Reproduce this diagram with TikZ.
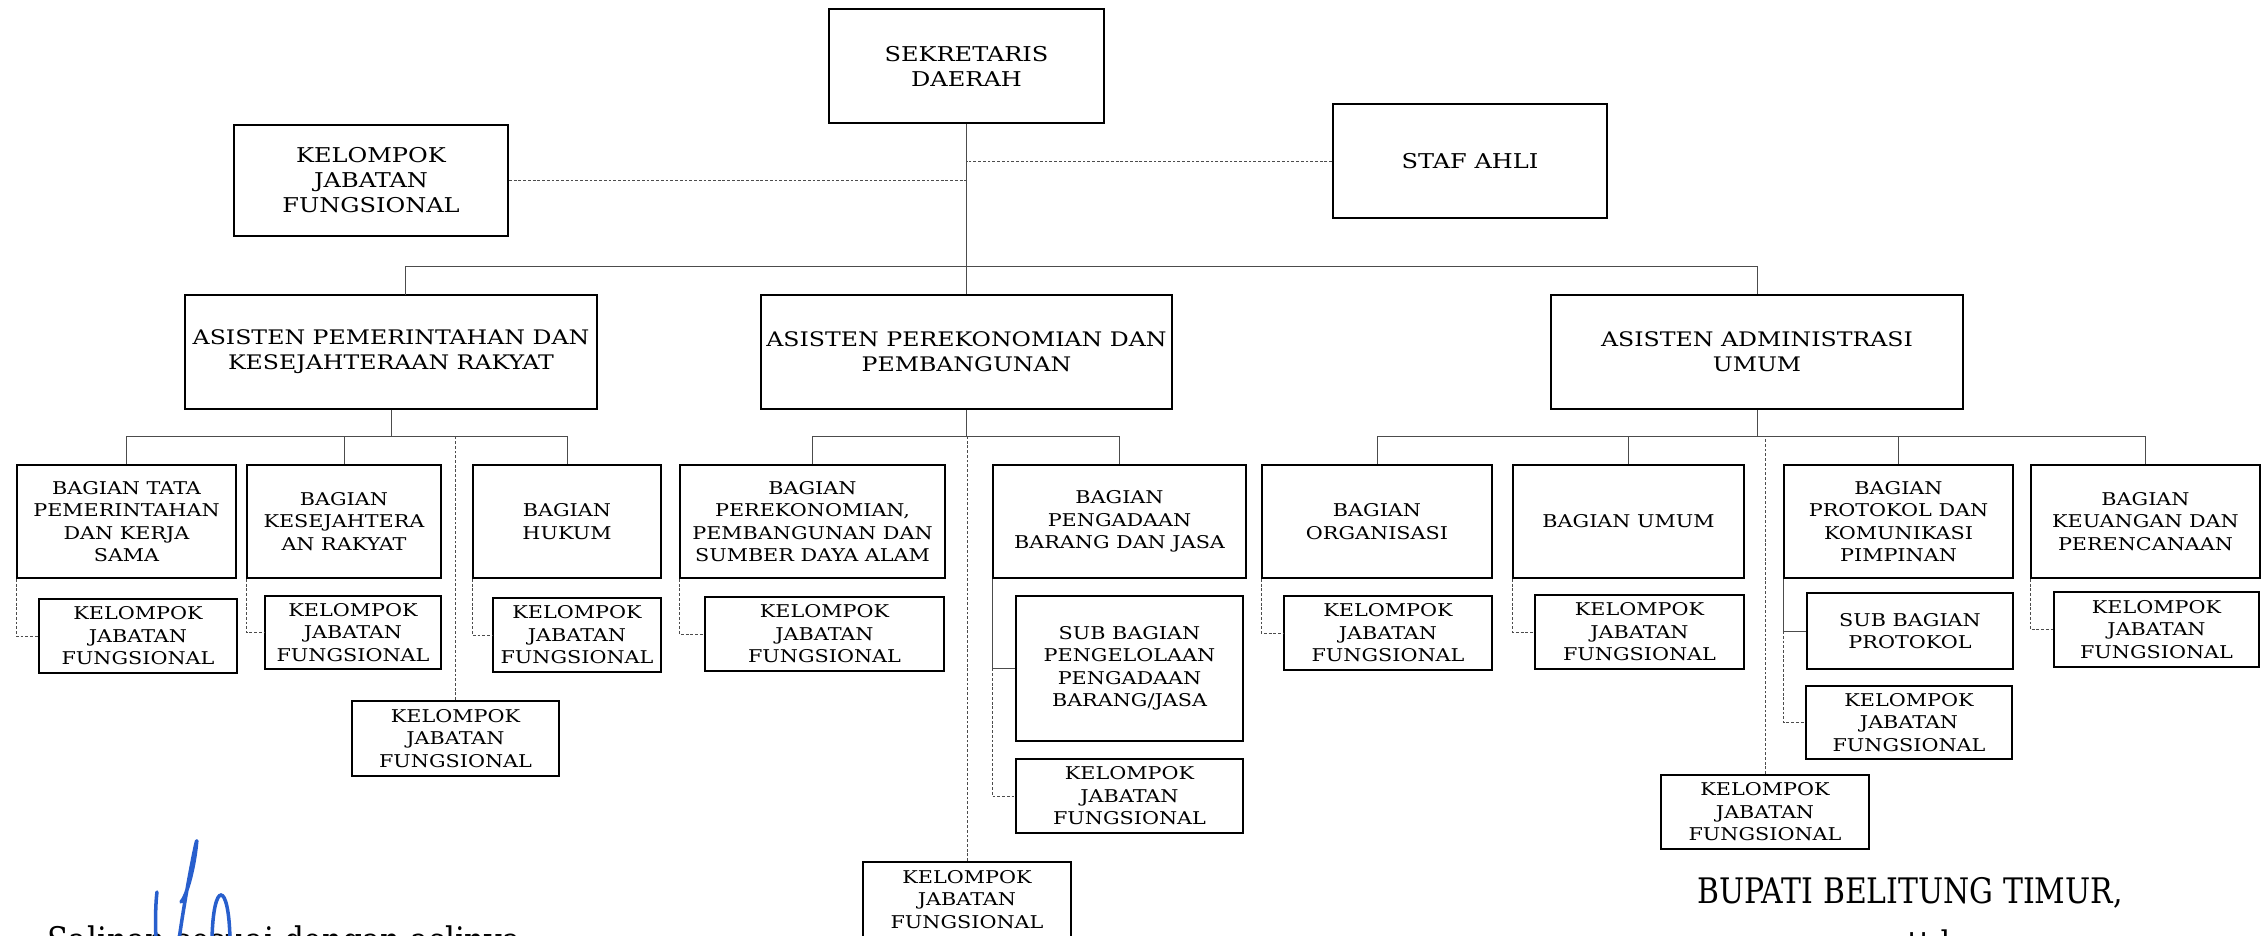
\documentclass[tikz,border=0pt]{standalone}
\usepackage{fontspec}
\setmainfont{DejaVu Serif}[FakeStretch=1.18]
\newfontfamily\kakifont{DejaVu Serif}[FakeStretch=0.85]
\usepackage{tikz}
\usepackage{xcolor}
\definecolor{tinta}{RGB}{40,95,205}
\newcommand{\kotakfont}{\fontsize{10}{12.8}\selectfont}
\newcommand{\atasfont}{\fontsize{11.6}{14.2}\selectfont}
\newcommand{\asisfont}{\fontsize{11.4}{14.2}\selectfont}
\tikzset{
  kotak/.style={draw, line width=1.1pt, align=center, inner sep=0pt, font=\kotakfont},
  garis/.style={gray!60!black, line width=0.5pt},
  putus/.style={gray!60!black, line width=0.5pt, dash pattern=on 1.6pt off 1.1pt},
}

\begin{document}
\begin{tikzpicture}
            \fill[white](0,0)rectangle(45.24,-18.7);
            \useasboundingbox(0,0)rectangle(45.24,-18.7);
            \node[kotak, font=\atasfont, minimum width=5.5cm, minimum height=2.28cm] (sekda) at (19.33,-1.32){SEKRETARIS\\DAERAH};
            \node[kotak, font=\atasfont, minimum width=5.48cm, minimum height=2.22cm] (kjfsekda) at (7.42,-3.61){KELOMPOK\\JABATAN\\FUNGSIONAL};
            \node[kotak, font=\atasfont, minimum width=5.48cm, minimum height=2.28cm] (staf) at (29.4,-3.22){STAF AHLI};
            \node[kotak, font=\asisfont, minimum width=8.24cm, minimum height=2.28cm] (asPem) at (7.82,-7.04){ASISTEN PEMERINTAHAN DAN\\KESEJAHTERAAN RAKYAT};
            \node[kotak, font=\asisfont, minimum width=8.22cm, minimum height=2.28cm] (asEko) at (19.33,-7.04){ASISTEN PEREKONOMIAN DAN\\PEMBANGUNAN};
            \node[kotak, font=\asisfont, minimum width=8.24cm, minimum height=2.28cm] (asAdm) at (35.14,-7.04){ASISTEN ADMINISTRASI\\UMUM};
            \node[kotak, minimum width=4.38cm, minimum height=2.26cm] (tata) at (2.53,-10.43){BAGIAN TATA\\PEMERINTAHAN\\DAN KERJA\\SAMA};
            \node[kotak, minimum width=3.88cm, minimum height=2.26cm] (kesej) at (6.88,-10.43){BAGIAN\\KESEJAHTERA\\AN RAKYAT};
            \node[kotak, minimum width=3.76cm, minimum height=2.26cm] (hukum) at (11.34,-10.43){BAGIAN\\HUKUM};
            \node[kotak, minimum width=5.3cm, minimum height=2.26cm] (ekon) at (16.25,-10.43){BAGIAN\\PEREKONOMIAN,\\PEMBANGUNAN DAN\\SUMBER DAYA ALAM};
            \node[kotak, minimum width=5.06cm, minimum height=2.26cm] (pbj) at (22.39,-10.43){BAGIAN\\PENGADAAN\\BARANG DAN JASA};
            \node[kotak, minimum width=4.6cm, minimum height=2.26cm] (org) at (27.54,-10.43){BAGIAN\\ORGANISASI};
            \node[kotak, minimum width=4.62cm, minimum height=2.26cm] (umum) at (32.57,-10.43){BAGIAN UMUM};
            \node[kotak, minimum width=4.58cm, minimum height=2.26cm] (proto) at (37.97,-10.43){BAGIAN\\PROTOKOL DAN\\KOMUNIKASI\\PIMPINAN};
            \node[kotak, minimum width=4.58cm, minimum height=2.26cm] (keu) at (42.91,-10.43){BAGIAN\\KEUANGAN DAN\\PERENCANAAN};
            \node[kotak, minimum width=3.96cm, minimum height=1.48cm] (kjftata) at (2.76,-12.72){KELOMPOK\\JABATAN\\FUNGSIONAL};
            \node[kotak, minimum width=3.52cm, minimum height=1.46cm] (kjfkesej) at (7.06,-12.65){KELOMPOK\\JABATAN\\FUNGSIONAL};
            \node[kotak, minimum width=3.36cm, minimum height=1.48cm] (kjfhukum) at (11.54,-12.7){KELOMPOK\\JABATAN\\FUNGSIONAL};
            \node[kotak, minimum width=4.78cm, minimum height=1.48cm] (kjfekon) at (16.49,-12.68){KELOMPOK\\JABATAN\\FUNGSIONAL};
            \node[kotak, minimum width=4.54cm, minimum height=2.9cm] (subpbj) at (22.59,-13.37){SUB BAGIAN\\PENGELOLAAN\\PENGADAAN\\BARANG/JASA};
            \node[kotak, minimum width=4.54cm, minimum height=1.48cm] (kjfpbj) at (22.59,-15.92){KELOMPOK\\JABATAN\\FUNGSIONAL};
            \node[kotak, minimum width=4.16cm, minimum height=1.48cm] (kjforg) at (27.76,-12.66){KELOMPOK\\JABATAN\\FUNGSIONAL};
            \node[kotak, minimum width=4.18cm, minimum height=1.48cm] (kjfumum) at (32.79,-12.64){KELOMPOK\\JABATAN\\FUNGSIONAL};
            \node[kotak, minimum width=4.12cm, minimum height=1.52cm] (subproto) at (38.2,-12.62){SUB BAGIAN\\PROTOKOL};
            \node[kotak, minimum width=4.12cm, minimum height=1.46cm] (kjfproto) at (38.18,-14.45){KELOMPOK\\JABATAN\\FUNGSIONAL};
            \node[kotak, minimum width=4.1cm, minimum height=1.5cm] (kjfkeu) at (43.13,-12.59){KELOMPOK\\JABATAN\\FUNGSIONAL};
            \node[kotak, minimum width=4.14cm, minimum height=1.5cm] (kjfpem) at (9.11,-14.77){KELOMPOK\\JABATAN\\FUNGSIONAL};
            \node[kotak, minimum width=4.16cm, minimum height=1.5cm] (kjfeko) at (19.34,-17.99){KELOMPOK\\JABATAN\\FUNGSIONAL};
            \node[kotak, minimum width=4.16cm, minimum height=1.48cm] (kjfadm) at (35.3,-16.24){KELOMPOK\\JABATAN\\FUNGSIONAL};
            \coordinate (bus1) at (0,-5.32);
            \coordinate (bus2) at (0,-8.72);
            \coordinate (kakiPem) at (8.1,-5.9);
            \draw[garis](sekda.south)--(asEko.north);
            \draw[garis](kakiPem)|-(asAdm.north |- bus1)--(asAdm.north);
            \draw[putus](kjfsekda.east)--(kjfsekda.east -| sekda.south);
            \draw[putus](staf.west)--(staf.west -| sekda.south);
            \draw[garis](asPem.south)--(asPem.south |- bus2);
            \draw[garis](tata.north)--(tata.north |- bus2)--(hukum.north |- bus2)--(hukum.north);
            \draw[garis](kesej.north)--(kesej.north |- bus2);
            \draw[putus](kjfpem.north)--(kjfpem.north |- bus2);
            \draw[garis](asEko.south)--(asEko.south |- bus2);
            \draw[garis](ekon.north)--(ekon.north |- bus2)--(pbj.north |- bus2)--(pbj.north);
            \draw[putus](kjfeko.north)--(kjfeko.north |- bus2);
            \draw[garis](asAdm.south)--(asAdm.south |- bus2);
            \draw[garis](org.north)--(org.north |- bus2)--(keu.north |- bus2)--(keu.north);
            \draw[garis](umum.north)--(umum.north |- bus2);
            \draw[garis](proto.north)--(proto.north |- bus2);
            \draw[putus](kjfadm.north)--(kjfadm.north |- bus2);
            \draw[putus](tata.south west)|-(kjftata.west);
            \draw[putus](kesej.south west)|-(kjfkesej.west);
            \draw[putus](hukum.south west)|-(kjfhukum.west);
            \draw[putus](ekon.south west)|-(kjfekon.west);
            \draw[garis](pbj.south west)|-(subpbj.west);
            \draw[putus](subpbj.west -| pbj.south west)|-(kjfpbj.west);
            \draw[putus](org.south west)|-(kjforg.west);
            \draw[putus](umum.south west)|-(kjfumum.west);
            \draw[garis](proto.south west)|-(subproto.west);
            \draw[putus](subproto.west -| proto.south west)|-(kjfproto.west);
            \draw[putus](keu.south west)|-(kjfkeu.west);
            \node[font=\kakifont\fontsize{20}{24}\selectfont, anchor=base] (bupati) at (38.2,-18.06){BUPATI BELITUNG TIMUR,};
            \node[font=\kakifont\fontsize{20}{24}\selectfont, anchor=base] (ttd) at (38.58,-19.12){ttd};
            \node[font=\kakifont\fontsize{20.8}{24}\selectfont, anchor=base west, inner sep=0pt] (salinan) at (0.94,-19.06){Salinan sesuai dengan aslinya};
            \draw[tinta, line width=2pt, line cap=round](3.12,-18.8)..controls(3.1,-18.3)and(3.12,-18.0)..(3.14,-17.84);
            \draw[tinta, line width=2pt, line cap=round, line join=round](3.58,-18.8)..controls(3.7,-17.9)and(3.98,-16.5)..(3.93,-16.88)..controls(3.88,-17.4)and(3.72,-17.95)..(3.62,-18.04);
            \draw[tinta, line width=2pt, line cap=round](4.24,-18.8)..controls(4.26,-17.6)and(4.58,-17.6)..(4.6,-18.8);
        \end{tikzpicture}
\end{document}
